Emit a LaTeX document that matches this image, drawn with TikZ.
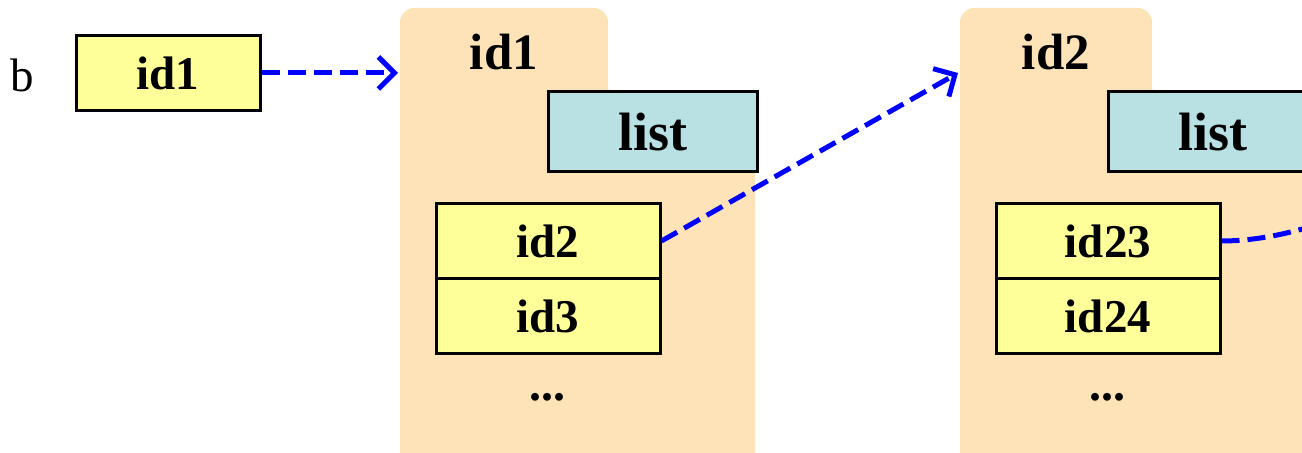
\documentclass[tikz,border=0pt]{standalone}
\usepackage{fontspec}
\setmainfont{Liberation Serif}
\usetikzlibrary{positioning,arrows.meta}
\definecolor{peach}{RGB}{255,227,184}
\definecolor{pale}{RGB}{255,255,153}
\definecolor{cyanish}{RGB}{185,224,227}
\tikzstyle{folder}=[fill=peach, rounded corners=7pt]
\tikzstyle{idbox}=[draw, line width=1.5pt, fill=pale, minimum width=112pt, minimum height=37.5pt, inner sep=0pt, font=\fontsize{23.5}{28}\selectfont\bfseries]
\tikzstyle{listbox}=[draw, line width=1.5pt, fill=cyanish, minimum width=104.5pt, minimum height=40pt, inner sep=0pt, font=\fontsize{27}{32}\selectfont\bfseries]
\tikzstyle{ref}=[draw=blue, line width=2.5pt, dash pattern=on 9pt off 4pt]
\tikzstyle{ref>}=[ref, -{Straight Barb[length=8pt,width=16pt]}]

\begin{document}
\begin{tikzpicture}[x=0.5pt, y=-0.5pt]
\clip (0,0) rectangle (1302,453);
\node[anchor=base, font=\fontsize{23.5}{28}\selectfont] (b) at (22,92) {b};
\node[idbox, minimum width=92pt] (v1) at (168,73) {id1};
\foreach \n/\x/\w/\r/\lab/\a/\b in {1/400/208/755/id1/id2/id3, 2/960/192/1400/id2/id23/id24} {
 \fill[folder] (\x,480) -- (\x,8) -- (\x+\w,8) -- (\x+\w,100) -- (\r,100) -- (\r,480) -- cycle;
 \node[anchor=base, font=\fontsize{25.5}{30}\selectfont\bfseries] (t\n) at (\x+\w/2,70) {\lab};
 \node[listbox] (l\n) at (\x+252.5,132) {list};
 \node[idbox] (a\n) at (\x+148,241) {\a};
 \node[idbox, below=-1.5pt of a\n] (c\n) {\b};
 \node[anchor=base, font=\fontsize{24}{28}\selectfont\bfseries] (d\n) at (\x+147,401) {...};
 \coordinate (f\n) at (\x-2,73);
}
\coordinate (g) at (1370,205);
\draw[ref>] (v1.east) -- (f1);
\draw[ref>] (a1.east) -- (f2);
\draw[ref] (a2.east) .. controls (1270,241) and (1320,226) .. (g);
\end{tikzpicture}
\end{document}
